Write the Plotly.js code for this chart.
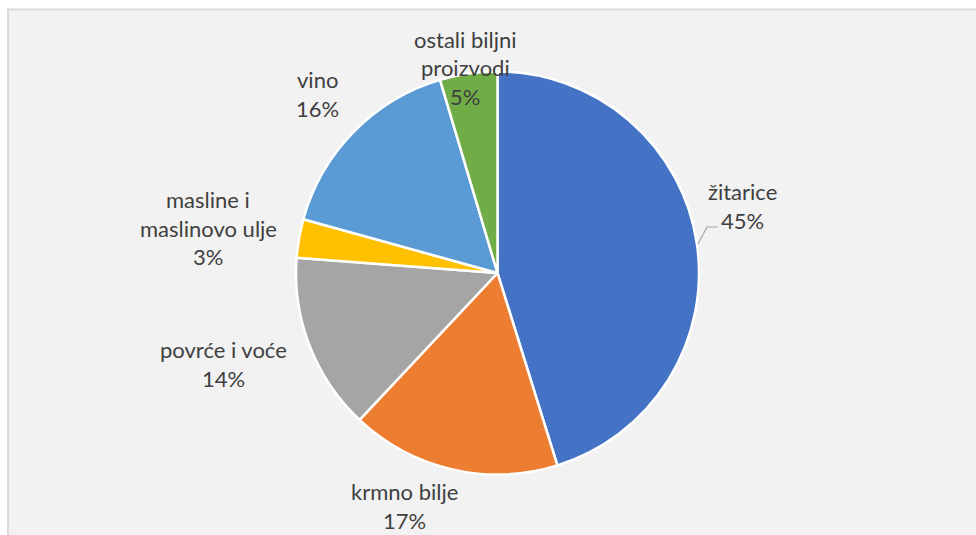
<!DOCTYPE html>
<html>
<head>
<meta charset="utf-8">
<script src="https://cdn.plot.ly/plotly-3.0.1.min.js"></script>
<style>
  html, body { margin: 0; padding: 0; background: #ffffff; }
  #chart { width: 976px; height: 535px; }
</style>
</head>
<body>
<div id="chart"></div>
<script>
// Data
const categories = ["žitarice", "krmno bilje", "povrće i voće", "masline i\nmaslinovo ulje", "vino", "ostali biljni\nproizvodi"];
const shares = [45.2, 16.8, 14.2, 3.1, 16.1, 4.6];
const percentLabels = ["45%", "17%", "14%", "3%", "16%", "5%"];
const colors = ["#4472c4", "#ed7d31", "#a5a5a5", "#ffc000", "#5b9bd5", "#70ad47"];

// label block centres (pixels) - layout only
const labelPos = [[742, 206], [404, 506], [223, 364], [208, 228], [317, 94], [465, 68]];

const W = 976, H = 535;
const cx = 497.5, cy = 273, R = 201.5;
const LINE = 28.5;
const px = x => x / W;
const py = y => 1 - y / H;

const annotations = [];
categories.forEach((c, i) => {
  const lines = c.split("\n").concat([percentLabels[i]]);
  const n = lines.length;
  lines.forEach((t, j) => {
    const y = labelPos[i][1] + (j - (n - 1) / 2) * LINE;
    annotations.push({
      text: t, xref: "paper", yref: "paper",
      x: px(labelPos[i][0]), y: py(y),
      xanchor: "center", yanchor: "middle", showarrow: false,
      font: { family: "Lato, 'Open Sans', sans-serif", size: 22, color: "#404040" }
    });
  });
});

const trace = {
  type: "pie",
  labels: categories.map(c => c.replace("\n", " ")),
  values: shares,
  sort: false,
  direction: "clockwise",
  rotation: 0,
  marker: { colors: colors, line: { color: "#ffffff", width: 2.5 } },
  textinfo: "none",
  hoverinfo: "label+percent",
  showlegend: false,
  domain: { x: [px(cx - R), px(cx + R)], y: [py(cy + R), py(cy - R)] }
};

const layout = {
  width: W, height: H,
  margin: { l: 0, r: 0, t: 0, b: 0 },
  paper_bgcolor: "#ffffff",
  showlegend: false,
  annotations: annotations,
  shapes: [
    { type: "rect", xref: "paper", yref: "paper", layer: "below",
      x0: px(8), x1: px(990), y0: py(560), y1: py(9.5),
      fillcolor: "#f2f2f2", line: { color: "#d9d9d9", width: 2 } },
    { type: "path", xref: "paper", yref: "paper", layer: "above",
      path: "M " + px(698) + "," + py(244) + " L " + px(707) + "," + py(227) + " L " + px(718) + "," + py(227),
      line: { color: "#a6a6a6", width: 1.2 } }
  ]
};

Plotly.newPlot("chart", [trace], layout, { displayModeBar: false, staticPlot: true });
</script>
</body>
</html>
